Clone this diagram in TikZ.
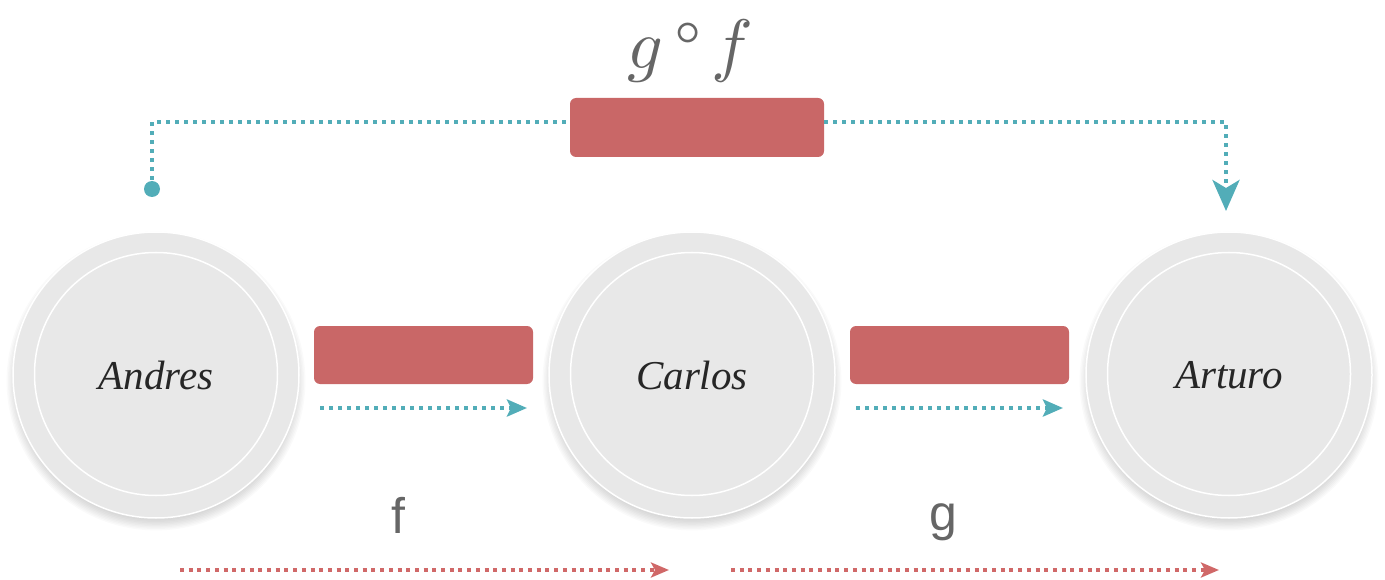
\documentclass[tikz,border=0pt]{standalone}
\usepackage{fontspec}
\usepackage{unicode-math}
\newfontfamily\lsans{Liberation Sans}
\newfontfamily\lserif{Liberation Serif}
\usetikzlibrary{arrows.meta}
\definecolor{boxred}{HTML}{C96767}
\definecolor{tealc}{HTML}{52ADB8}
\definecolor{dotred}{HTML}{D06868}
\definecolor{disc}{HTML}{E8E8E8}
\definecolor{txtgray}{HTML}{666666}
\tikzset{
  person/.style={circle, fill=disc, draw=white, line width=1.5pt, minimum size=286pt, inner sep=0pt},
  inring/.style={circle, draw=white, line width=1.5pt, minimum size=243pt, inner sep=0pt},
  redbox/.style={rounded corners=6pt, fill=boxred, draw=none, inner sep=0pt},
  tealdot/.style={tealc, line width=4pt, dash pattern=on 4pt off 5pt},
  reddot/.style={dotred, line width=3.5pt, dash pattern=on 4pt off 4.7pt},
  pname/.style={font=\lserif\fontsize{41}{46}\selectfont\itshape, text=black!85},
  lab/.style={font=\lsans\fontsize{50}{56}\selectfont, text=txtgray}
}
\begin{document}
\begin{tikzpicture}[x=1pt,y=-1pt]
\useasboundingbox (0,0) rectangle (1385,580);
% soft shadows
\foreach \cx in {156,692,1229}{
  \foreach \i in {0,...,11}{
    \fill[black, opacity=0.02] (\cx,381) circle ({134+\i*1.4});
  }
}
\node[person] (A) at (156,375) {};
\node[person] (C) at (692,375) {};
\node[person] (R) at (1229,375) {};
\node[inring] (Ai) at (156,374) {};
\node[inring] (Ci) at (692,374) {};
\node[inring] (Ri) at (1229,374) {};
\node[pname] (An) at (156,375) {Andres};
\node[pname] (Cn) at (692,375) {Carlos};
\node[pname] (Rn) at (1229,375) {Arturo};
% boxes
\node[redbox, minimum width=219pt, minimum height=58pt] (b1) at (423.5,355) {};
\node[redbox, minimum width=219pt, minimum height=58pt] (b2) at (959.5,355) {};
\node[redbox, minimum width=254pt, minimum height=59pt] (b3) at (697,127.5) {};
% teal arrows under boxes
\coordinate (t1s) at (320,408);
\coordinate (t1e) at (527,408);
\coordinate (t2s) at (856,408);
\coordinate (t2e) at (1063,408);
\draw[tealdot, -{Stealth[length=20pt,width=17pt,inset=4pt]}] (t1s) -- (t1e);
\draw[tealdot, -{Stealth[length=20pt,width=17pt,inset=4pt]}] (t2s) -- (t2e);
% top composite connector
\coordinate (dotA) at (152,189);
\coordinate (tipR) at (1226,211);
\fill[tealc] (dotA) circle (8pt);
\draw[tealdot] (dotA) |- ([yshift=5.5pt]b3.west);
\draw[tealdot, -{Stealth[length=31pt,width=27pt,inset=8pt]}] ([yshift=5.5pt]b3.east) -| (tipR);
% labels
\node[text=txtgray, font=\fontsize{70}{76}\selectfont, inner sep=0pt] (gf) at (690,51) {$g$\hspace{12pt}\smash{\raisebox{19pt}{\fontsize{66}{70}\selectfont$\circ$}}\hspace{10pt}$f$};
\node[lab] (fl) at (398,515) {f};
\node[lab] (gl) at (943,522) {g};
% bottom red arrows
\coordinate (r1s) at (180,570);
\coordinate (r1e) at (669,570);
\coordinate (r2s) at (731,570);
\coordinate (r2e) at (1219,570);
\draw[reddot, -{Stealth[length=18pt,width=15pt,inset=4pt]}] (r1s) -- (r1e);
\draw[reddot, -{Stealth[length=18pt,width=15pt,inset=4pt]}] (r2s) -- (r2e);
\end{tikzpicture}
\end{document}
